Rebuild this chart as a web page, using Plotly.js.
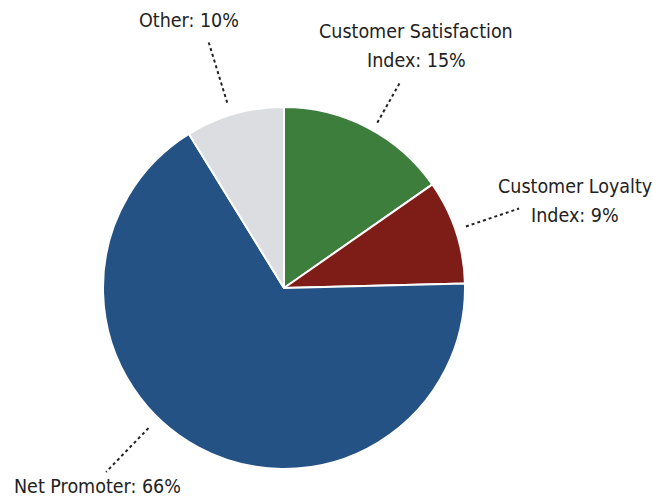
<!DOCTYPE html>
<html>
<head>
<meta charset="utf-8">
<script src="https://cdn.plot.ly/plotly-3.0.1.min.js"></script>
<style>html,body{margin:0;padding:0;background:#fff;}#chart{width:653px;height:500px;}</style>
</head>
<body>
<div id="chart"></div>
<script>
const categories = ["Customer Satisfaction Index", "Customer Loyalty Index", "Net Promoter", "Other"];
const labelLines = [["Customer Satisfaction", "Index: 15%"], ["Customer Loyalty", "Index: 9%"], ["Net Promoter: 66%"], ["Other: 10%"]];
// slice sizes as drawn in the picture (percent)
const shares = [15.3, 9.3, 66.6, 8.8];
const sliceColors = ["#3e7e3c", "#7e1d18", "#255285", "#dcdde0"];

// label placement styling: leader angle offset (deg), leader radii (x radius), text offset from leader end (px)
const labelStyle = [
  {dAng: 1.9,  r0: 1.049, r1: 1.304, dx: 16,  dy: -36.5},
  {dAng: -0.5, r0: 1.061, r1: 1.371, dx: 56,  dy: -7.5},
  {dAng: 15.6, r0: 1.077, r1: 1.414, dx: -9,  dy: 15},
  {dAng: -1.2, r0: 1.071, r1: 1.422, dx: -20, dy: -21}
];
const lineGap = 29.5;

const W = 653, H = 500;
const margin = {l: 103, r: 188, t: 107, b: 31};

const font = {family: "'DejaVu Sans Condensed', 'Liberation Sans Narrow', 'Arial Narrow', sans-serif", size: 19.5, color: "#222"};

const total = shares.reduce((a, b) => a + b, 0);
let cum = 0;
const shapes = [], annotations = [];
shares.forEach((v, i) => {
  const s = labelStyle[i];
  const mid = (cum + v / 2) / total * 360 + s.dAng;
  cum += v;
  const rad = mid * Math.PI / 180;
  const pt = f => [0.5 + 0.5 * f * Math.sin(rad), 0.5 + 0.5 * f * Math.cos(rad)];
  const a = pt(s.r0), b = pt(s.r1);
  shapes.push({type: "line", xref: "paper", yref: "paper", x0: a[0], y0: a[1], x1: b[0], y1: b[1],
    line: {color: "#222", width: 2, dash: "dot"}});
  const n = labelLines[i].length;
  labelLines[i].forEach((t, k) => {
    const off = (k - (n - 1) / 2) * lineGap;
    annotations.push({xref: "paper", yref: "paper", x: b[0], y: b[1], text: t, showarrow: false,
      xanchor: "center", yanchor: "middle", xshift: s.dx, yshift: -(s.dy + off), font: font, align: "center"});
  });
});

const data = [{
  type: "pie",
  labels: categories,
  values: shares,
  sort: false,
  direction: "clockwise",
  rotation: 0,
  textinfo: "none",
  hoverinfo: "label+percent",
  marker: {colors: sliceColors, line: {color: "#fff", width: 2}},
  showlegend: false
}];

const layout = {
  width: W, height: H,
  margin: margin,
  paper_bgcolor: "#fff",
  showlegend: false,
  shapes: shapes,
  annotations: annotations
};

Plotly.newPlot("chart", data, layout, {displayModeBar: false, staticPlot: true});
</script>
</body>
</html>
